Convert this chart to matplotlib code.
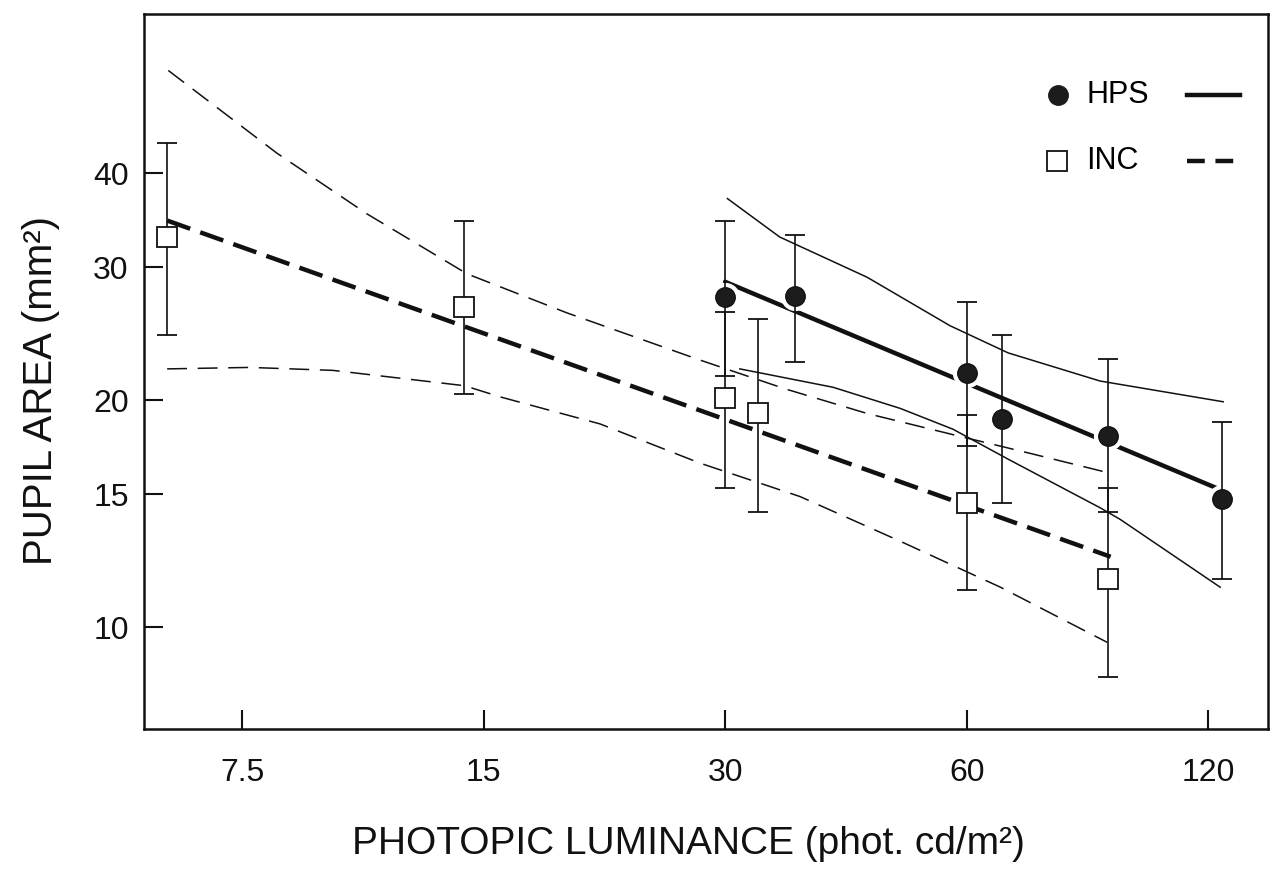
import matplotlib
matplotlib.use("Agg")
import matplotlib.pyplot as plt
import numpy as np
from matplotlib.ticker import FixedLocator, FixedFormatter, NullLocator

# ── data (log-log axes) ─────────────────────────────────────
HPS_LUM  = [30, 36.7, 60, 66.4, 90, 125]
HPS_AREA = [27.4, 27.5, 21.7, 18.9, 17.9, 14.8]
HPS_HI   = [34.5, 33.1, 27.0, 24.4, 22.7, 18.7]
HPS_LO   = [21.5, 22.5, 17.4, 14.6, 14.2, 11.6]

INC_LUM  = [6.05, 14.2, 30, 33, 60, 90]
INC_AREA = [32.9, 26.6, 20.1, 19.2, 14.6, 11.6]
INC_HI   = [43.9, 34.6, 26.2, 25.6, 19.1, 15.3]
INC_LO   = [24.4, 20.4, 15.3, 14.2, 11.2, 8.6]

# regression lines (straight on log-log)
HPS_FIT_X = [30, 124.6]
HPS_FIT_Y = [28.7, 15.2]
INC_FIT_X = [6.05, 90.7]
INC_FIT_Y = [34.6, 12.4]

# confidence bands
HPS_CI_HI_X = [30.2, 35.1, 45.1, 57.2, 67.6, 88.0, 125.3]
HPS_CI_HI_Y = [37.0, 32.9, 29.1, 25.1, 23.1, 21.2, 19.9]
HPS_CI_LO_X = [31.3, 40.9, 49.6, 57.7, 67.6, 88.0, 93.2, 124.2]
HPS_CI_LO_Y = [22.0, 20.8, 19.5, 18.3, 16.7, 14.4, 13.9, 11.3]
INC_CI_HI_X = [6.07, 8.29, 10.74, 14.31, 19.06, 27.92, 35.64, 45.1, 57.7, 72.0, 90.6]
INC_CI_HI_Y = [54.7, 42.5, 35.3, 29.4, 26.1, 22.6, 20.7, 19.2, 18.0, 17.0, 16.0]
INC_CI_LO_X = [6.05, 7.67, 9.74, 14.2, 15.73, 20.95, 27.92, 37.2, 49.6, 66.1, 89.8]
INC_CI_LO_Y = [22.0, 22.1, 21.9, 20.9, 20.2, 18.6, 16.5, 14.9, 13.0, 11.3, 9.55]

X_TICKS = [7.5, 15, 30, 60, 120]
X_LABELS = ["7.5", "15", "30", "60", "120"]
Y_TICKS = [10, 15, 20, 30, 40]
Y_LABELS = ["10", "15", "20", "30", "40"]

plt.rcParams["font.family"] = ["Liberation Sans", "DejaVu Sans"]
INK = "#111111"

fig = plt.figure(figsize=(12.85, 8.72), dpi=100)
ax = fig.add_axes([0.112, 0.164, 0.875, 0.820])
ax.set_xscale("log")
ax.set_yscale("log")
ax.set_xlim(5.66, 142.6)
ax.set_ylim(7.33, 65)

# ── confidence bands ────────────────────────────────────────
ax.plot(INC_CI_HI_X, INC_CI_HI_Y, color=INK, lw=1.1, dashes=(13, 7), zorder=2)
ax.plot(INC_CI_LO_X, INC_CI_LO_Y, color=INK, lw=1.1, dashes=(13, 7), zorder=2)
ax.plot(HPS_CI_HI_X, HPS_CI_HI_Y, color=INK, lw=1.1, zorder=2)
ax.plot(HPS_CI_LO_X, HPS_CI_LO_Y, color=INK, lw=1.1, zorder=2)

# ── regression lines ────────────────────────────────────────
ax.plot(HPS_FIT_X, HPS_FIT_Y, color=INK, lw=3.2, solid_capstyle="round", zorder=3)
ax.plot(INC_FIT_X, INC_FIT_Y, color=INK, lw=3.2, dashes=(5.5, 2.4), zorder=3)

# white halo so the fit lines break around the dots
ax.plot(HPS_LUM, HPS_AREA, "o", ms=20, color="white", zorder=4)

# ── error bars and markers ──────────────────────────────────
for lum, area, hi, lo in [(HPS_LUM, HPS_AREA, HPS_HI, HPS_LO),
                          (INC_LUM, INC_AREA, INC_HI, INC_LO)]:
    area = np.array(area)
    yerr = [area - np.array(lo), np.array(hi) - area]
    ax.errorbar(lum, area, yerr=yerr, fmt="none", ecolor=INK,
                elinewidth=1.2, capsize=7.5, capthick=1.3, zorder=5)

ax.plot(HPS_LUM, HPS_AREA, "o", ms=14, color="#1c1c1c", mec=INK, zorder=6)
ax.plot(INC_LUM, INC_AREA, "s", ms=14.5, mfc="white", mec=INK, mew=1.3, zorder=6)

# ── legend (marker, label, line sample) ─────────────────────
ax.plot([0.813], [0.887], "o", ms=14, color="#1c1c1c", transform=ax.transAxes)
ax.text(0.838, 0.887, "HPS", transform=ax.transAxes, va="center", fontsize=22)
ax.plot([0.928, 0.975], [0.887, 0.887], color=INK, lw=3.2, transform=ax.transAxes)
ax.plot([0.812], [0.794], "s", ms=14.5, mfc="white", mec=INK, mew=1.3,
        transform=ax.transAxes)
ax.text(0.838, 0.794, "INC", transform=ax.transAxes, va="center", fontsize=22)
ax.plot([0.928, 0.975], [0.794, 0.794], color=INK, lw=3.2, dashes=(4.0, 2.4),
        transform=ax.transAxes)

# ── axes styling ────────────────────────────────────────────
ax.xaxis.set_major_locator(FixedLocator(X_TICKS))
ax.xaxis.set_major_formatter(FixedFormatter(X_LABELS))
ax.yaxis.set_major_locator(FixedLocator(Y_TICKS))
ax.yaxis.set_major_formatter(FixedFormatter(Y_LABELS))
ax.xaxis.set_minor_locator(NullLocator())
ax.yaxis.set_minor_locator(NullLocator())
ax.tick_params(axis="both", direction="in", length=14, width=1.5, colors=INK,
               labelsize=23)
ax.tick_params(axis="x", pad=21)
ax.tick_params(axis="y", pad=11)
for sp in ax.spines.values():
    sp.set_linewidth(1.8)
    sp.set_color(INK)

ax.set_xlabel("PHOTOPIC LUMINANCE (phot. cd/m²)", fontsize=28, color=INK)
ax.set_ylabel("PUPIL AREA (mm²)", fontsize=29, color=INK)
ax.xaxis.set_label_coords(0.484, -0.136)
ax.yaxis.set_label_coords(-0.075, 0.474)

fig.savefig("out.png", dpi=100)
